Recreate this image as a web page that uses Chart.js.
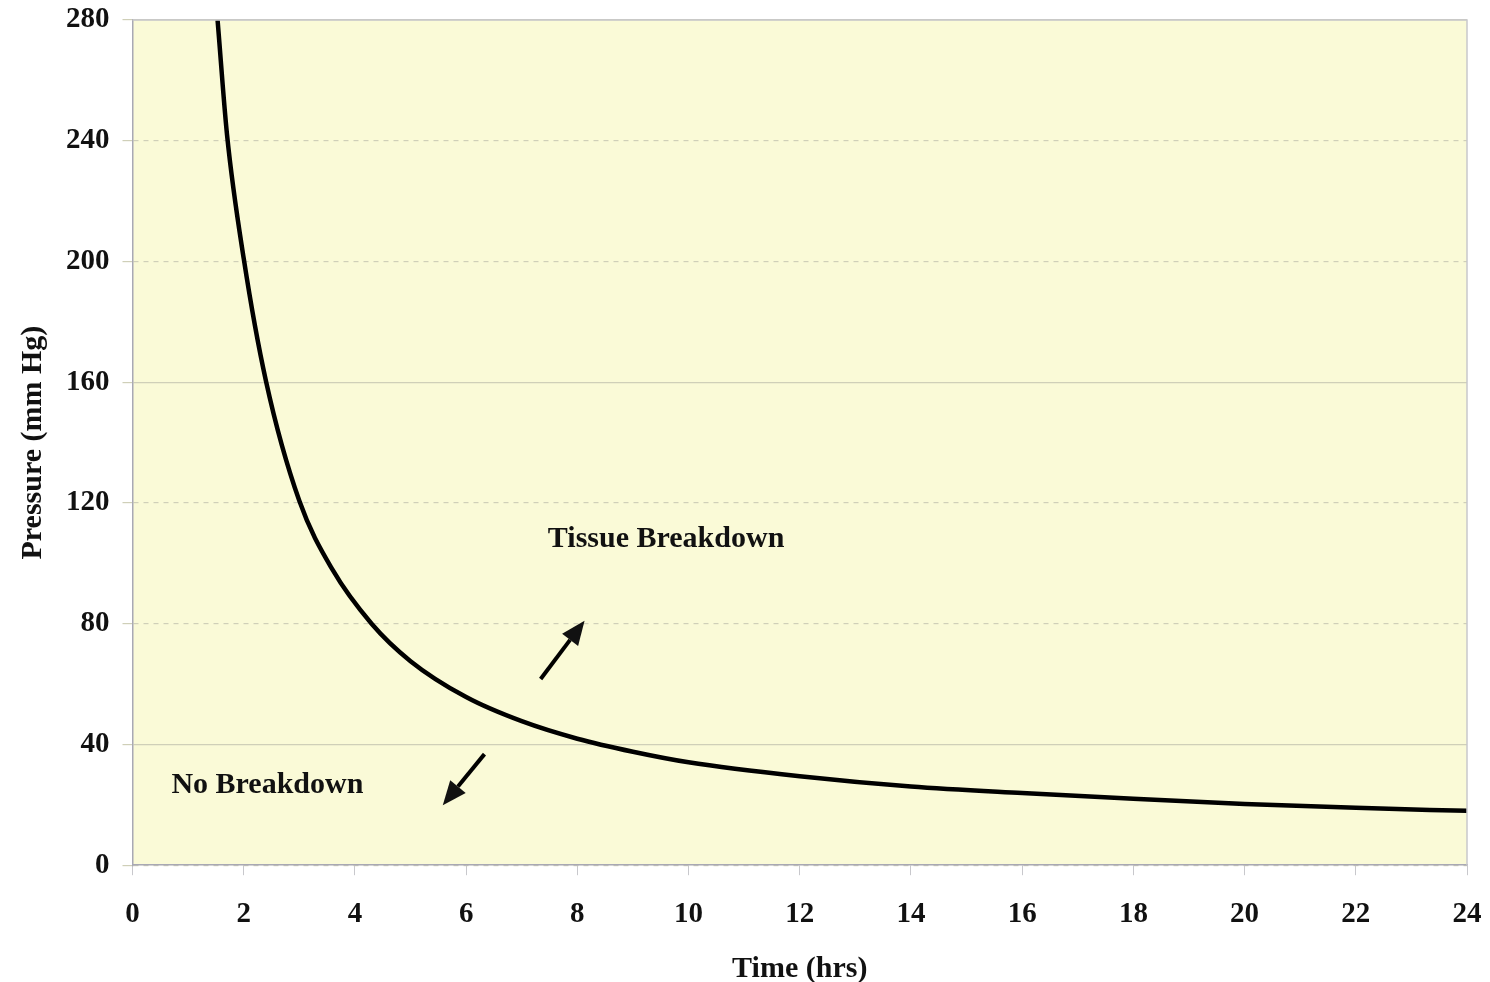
<!DOCTYPE html>
<html>
<head>
<meta charset="utf-8">
<script src="https://cdn.jsdelivr.net/npm/chart.js@4"></script>
<style>
  html, body { margin: 0; padding: 0; background: #fff; }
  #wrap { width: 1490px; height: 982px; }
</style>
</head>
<body>
<div id="wrap"><canvas id="pressureChart"></canvas></div>
<script>
// data
const hours = [1.53, 1.7, 2.0, 2.4, 3.0, 3.6, 4.3, 5.0, 6.0, 7.0, 8.0, 9.0, 10.0, 12.0, 14.0, 16.0, 18.0, 20.0, 22.0, 24.0];
const pressure = [280, 242, 201, 160.4, 120.7, 97.8, 80, 67.6, 55.7, 47.7, 41.9, 37.6, 34.1, 29.5, 26.1, 23.9, 22, 20.3, 19, 18];

// labels and arrows, in data units
const labels = [
    { text: "Tissue Breakdown", x: 7.47, y: 108 },
    { text: "No Breakdown", x: 0.7, y: 26.5 }
];
const arrows = [
    { from: [7.34, 61.7], to: [8.13, 81] },
    { from: [6.33, 36.8], to: [5.58, 19.9] }
];

const serif = "'Liberation Serif', 'DejaVu Serif', serif";

// **Plot background and frame**
const plotBox = {
    id: "plotBox",
    beforeDraw(chart) {
        let { ctx, chartArea: a } = chart;
        ctx.save();
        ctx.fillStyle = "#fafad7";
        ctx.fillRect(a.left, a.top, a.width, a.height);
        ctx.restore();
    },
    afterDatasetsDraw(chart) {
        let { ctx, chartArea: a } = chart;
        ctx.save();
        ctx.strokeStyle = "#c8c8cc";
        ctx.lineWidth = 1.5;
        ctx.beginPath();
        ctx.moveTo(a.left, a.top);
        ctx.lineTo(a.right, a.top);
        ctx.lineTo(a.right, a.bottom);
        ctx.stroke();
        ctx.restore();
    }
};

// **Annotations: texts and arrows**
const notes = {
    id: "notes",
    afterDatasetsDraw(chart) {
        let ctx = chart.ctx;
        let xs = chart.scales.x, ys = chart.scales.y;
        ctx.save();
        ctx.fillStyle = "#111";
        ctx.font = "bold 30px " + serif;
        ctx.textBaseline = "middle";
        labels.forEach(l => {
            ctx.fillText(l.text, xs.getPixelForValue(l.x), ys.getPixelForValue(l.y));
        });
        ctx.strokeStyle = "#000";
        ctx.lineWidth = 4;
        arrows.forEach(ar => {
            let x1 = xs.getPixelForValue(ar.from[0]), y1 = ys.getPixelForValue(ar.from[1]);
            let x2 = xs.getPixelForValue(ar.to[0]), y2 = ys.getPixelForValue(ar.to[1]);
            let ang = Math.atan2(y2 - y1, x2 - x1);
            let head = 24, bx = x2 - head * Math.cos(ang), by = y2 - head * Math.sin(ang);
            ctx.beginPath();
            ctx.moveTo(x1, y1);
            ctx.lineTo(bx, by);
            ctx.stroke();
            ctx.beginPath();
            ctx.moveTo(x2, y2);
            ctx.lineTo(bx + 10 * Math.sin(ang), by - 10 * Math.cos(ang));
            ctx.lineTo(bx - 10 * Math.sin(ang), by + 10 * Math.cos(ang));
            ctx.closePath();
            ctx.fill();
        });
        ctx.restore();
    }
};

let ctx = document.getElementById("pressureChart").getContext("2d");
new Chart(ctx, {
    type: "line",
    data: {
        datasets: [{
            data: hours.map((h, i) => ({ x: h, y: pressure[i] })),
            borderColor: "#000",
            borderWidth: 4.5,
            pointRadius: 0,
            cubicInterpolationMode: "monotone",
            fill: false
        }]
    },
    options: {
        responsive: true,
        maintainAspectRatio: false,
        animation: false,
        layout: { padding: { top: 0, right: 0, left: 18, bottom: -2 } },
        plugins: { legend: { display: false }, tooltip: { enabled: false } },
        scales: {
            x: {
                type: "linear",
                min: 0, max: 24,
                afterFit: s => { s.paddingRight = 23; },
                ticks: { stepSize: 2, color: "#111", padding: 22, font: { family: serif, size: 29, weight: "bold" } },
                grid: { drawOnChartArea: false, drawTicks: true, tickLength: 10, color: "#c8c8cc" },
                border: { color: "#a8a8b4", width: 1.5 },
                title: { display: true, text: "Time (hrs)", color: "#111", padding: { top: 0, bottom: 0 }, font: { family: serif, size: 30, weight: "bold", lineHeight: 1 } }
            },
            y: {
                min: 0, max: 280,
                afterFit: s => { s.paddingTop = 20; },
                ticks: { stepSize: 40, color: "#111", padding: 13, font: { family: serif, size: 29, weight: "bold" } },
                grid: {
                    color: "#cfcfb8",
                    lineWidth: 1.2,
                    tickLength: 10
                },
                border: {
                    color: "#a8a8b4",
                    width: 1.5,
                    dash: c => (c.tick && c.tick.value % 120 === 40) ? [] : [5, 5]
                },
                title: { display: true, text: "Pressure (mm Hg)", color: "#111", padding: { top: 0, bottom: 5 }, font: { family: serif, size: 30, weight: "bold", lineHeight: 1 } }
            }
        }
    },
    plugins: [plotBox, notes]
});
</script>
</body>
</html>
